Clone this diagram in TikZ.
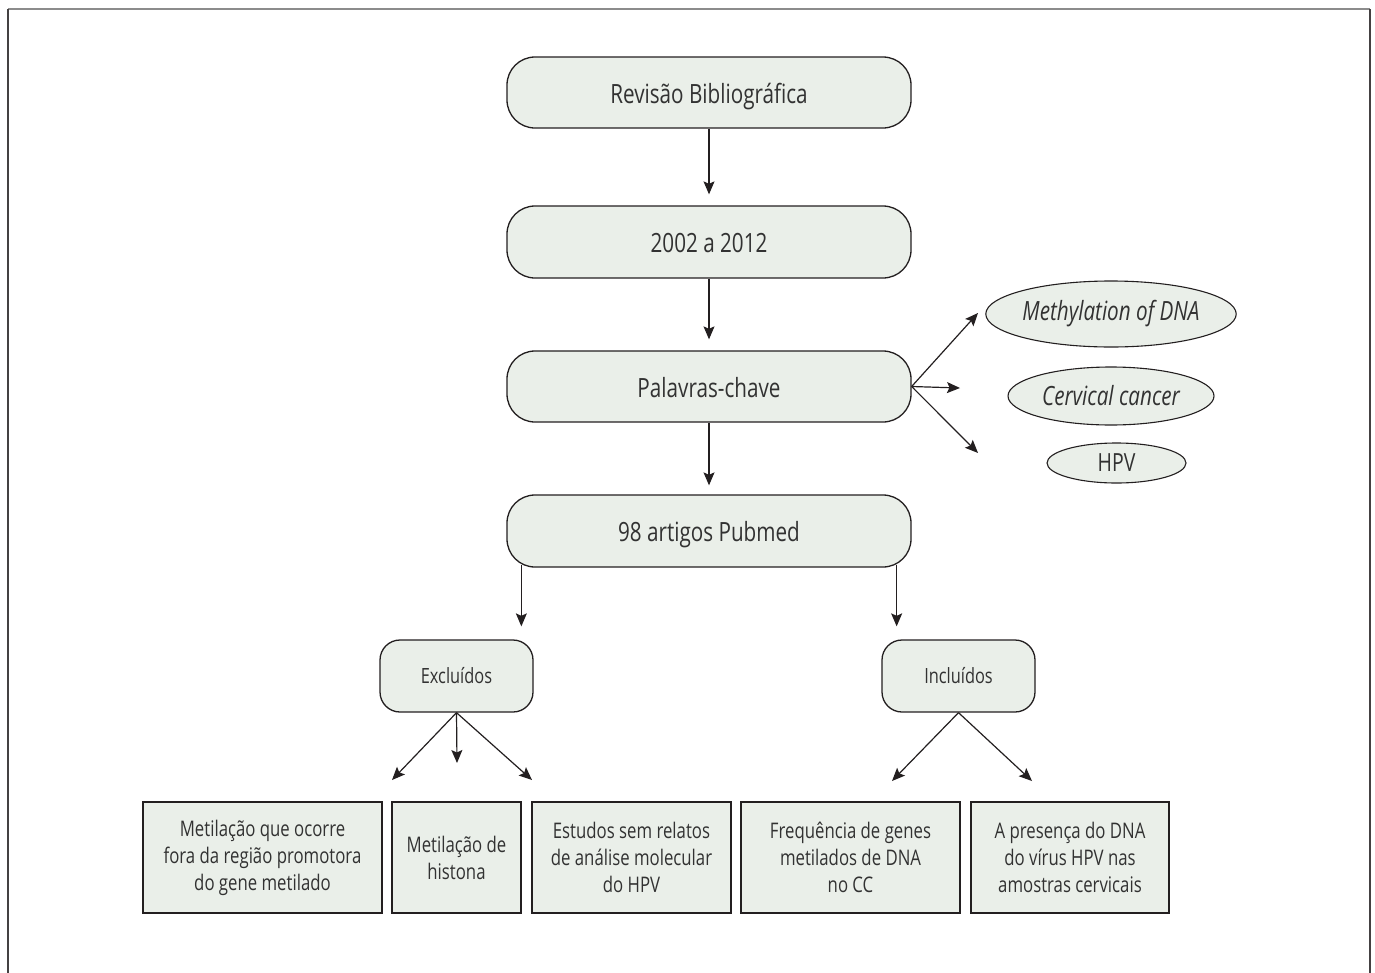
\documentclass[tikz,border=0pt]{standalone}
\usepackage{fontspec}
\setmainfont{Open Sans}[FakeStretch=0.78]
\usetikzlibrary{arrows.meta,shapes.geometric}
\definecolor{boxfill}{RGB}{234,239,233}
\definecolor{linec}{RGB}{35,31,32}
\definecolor{txt}{RGB}{50,50,50}
\definecolor{framegray}{RGB}{140,140,140}
\begin{document}
\begin{tikzpicture}[x=1pt,y=-1pt,
  mainbox/.style={draw=linec,fill=boxfill,line width=1.3pt,rounded corners=28pt,
    minimum width=404pt,minimum height=71pt,inner sep=0pt,
    text height=24pt,text depth=3pt,
    font=\fontsize{26.5}{30}\selectfont,text=txt},
  midbox/.style={draw=linec,fill=boxfill,line width=1.3pt,rounded corners=20pt,
    minimum width=153pt,minimum height=72pt,inner sep=0pt,
    font=\fontsize{21}{26}\selectfont,text=txt},
  leafbox/.style={draw=linec,fill=boxfill,line width=1.3pt,
    minimum height=111pt,inner sep=0pt,align=center,
    font=\fontsize{21.5}{27}\selectfont,text=txt},
  keyell/.style={ellipse,draw=linec,fill=boxfill,line width=1.1pt,inner sep=0pt,
    font=\fontsize{26.5}{30}\selectfont,text=txt},
  arr/.style={draw=linec,line width=1.2pt,-{Stealth[length=13pt,width=11pt,inset=2.5pt]}}
]
\useasboundingbox (0,0) rectangle (1375,972);
% frame
\draw[framegray,line width=2pt] (8,9) -- (1370,9);
\draw[linec!85,line width=1.3pt] (8,9) -- (8,980);
\draw[linec!85,line width=1.3pt] (1370,9) -- (1370,980);

% main chain
\node[mainbox] (rev) at (709,92.5) {Revisão Bibliográfica};
\node[mainbox,minimum height=72pt] (yrs) at (709,242) {2002 a 2012};
\node[mainbox] (pal) at (709,386.5) {Palavras-chave};
\node[mainbox,minimum height=72pt] (pub) at (709,531) {98 artigos Pubmed};

\draw[arr,shorten >=11pt] (rev.south) -- (yrs.north);
\draw[arr,shorten >=11pt] (yrs.south) -- (pal.north);
\draw[arr,shorten >=9pt] (pal.south) -- (pub.north);

% keywords
\node[keyell,minimum width=242pt,minimum height=66pt] (k1) at (1111,314) {\itshape Methylation of DNA};
\node[keyell,minimum width=206pt,minimum height=58pt] (k2) at (1111,396) {\itshape Cervical cancer};
\node[keyell,minimum width=139pt,minimum height=40pt,font=\fontsize{25}{28}\selectfont] (k3) at (1116.5,463) {HPV};
\coordinate (t1) at (978,313);
\coordinate (t2) at (960,388);
\coordinate (t3) at (978,453);
\draw[arr] (pal.east) -- (t1);
\draw[arr] (pal.east) -- (t2);
\draw[arr] (pal.east) -- (t3);

% second level
\node[midbox] (exc) at (456.5,676) {Excluídos};
\node[midbox] (inc) at (958.5,676) {Incluídos};
\coordinate (pl) at ([xshift=15pt,yshift=3pt]pub.south west);
\coordinate (pr) at ([xshift=-15pt,yshift=3pt]pub.south east);
\draw[arr,shorten >=13pt] (pl) -- (pl |- exc.north);
\draw[arr,shorten >=13pt] (pr) -- (pr |- inc.north);

% leaves
\node[leafbox,minimum width=239pt] (la) at (262.5,857.5) {Metilação que ocorre\\fora da região promotora\\do gene metilado};
\node[leafbox,minimum width=129pt] (lb) at (456.5,857.5) {Metilação de\\histona};
\node[leafbox,minimum width=199pt] (lc) at (631.5,857.5) {Estudos sem relatos\\de análise molecular\\do HPV};
\node[leafbox,minimum width=219pt] (ld) at (850.5,857.5) {Frequência de genes\\metilados de DNA\\no CC};
\node[leafbox,minimum width=198pt] (le) at (1070,857.5) {A presença do DNA\\do vírus HPV nas\\amostras cervicais};

\coordinate (ea) at (392,780);
\coordinate (eb) at (457,763);
\coordinate (ec) at (532,780);
\coordinate (ia) at (892,781);
\coordinate (ib) at (1032,781);
\draw[arr] (exc.south) -- (ea);
\draw[arr] (exc.south) -- (eb);
\draw[arr] (exc.south) -- (ec);
\draw[arr] (inc.south) -- (ia);
\draw[arr] (inc.south) -- (ib);
\end{tikzpicture}
\end{document}
